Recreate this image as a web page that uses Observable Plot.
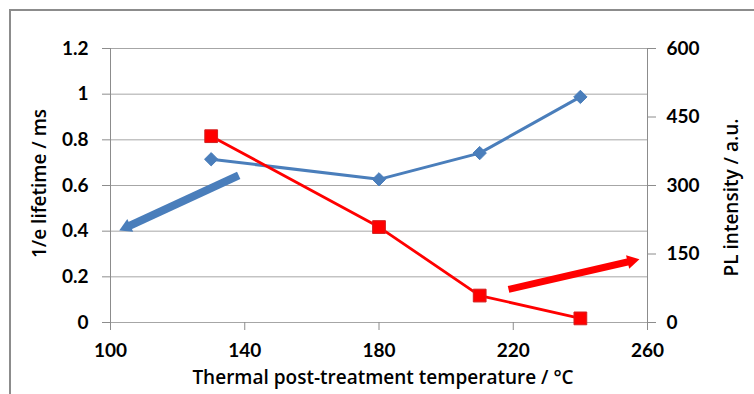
<!DOCTYPE html>
<html>
<head>
<meta charset="utf-8">
<script src="https://cdn.jsdelivr.net/npm/d3@7"></script>
<script src="https://cdn.jsdelivr.net/npm/@observablehq/plot@0.6"></script>
<style>
  html, body { margin: 0; padding: 0; background: #fff; }
  #wrap { position: relative; width: 754px; height: 394px; overflow: hidden; }
  #border { position: absolute; left: 9px; top: 9px; width: 760px; height: 400px;
            border-top: 2px solid #8c8c8c; border-left: 2px solid #8c8c8c; }
  #chart { position: absolute; left: 0; top: 0; }
</style>
</head>
<body>
<div id="wrap"><div id="border"></div><div id="chart"></div></div>
<script>
// Data
const temps = [130, 180, 210, 240];
const lifetime = [0.715, 0.627, 0.742, 0.988];       // 1/e lifetime / ms (left axis)
const plIntensity = [408, 209, 59, 9];               // PL intensity / a.u. (right axis)

const xTicks = [100, 140, 180, 220, 260];
const leftTicks = [0, 0.2, 0.4, 0.6, 0.8, 1, 1.2];
const rightTicks = [0, 150, 300, 450, 600];

// Trend arrows (data coordinates, left-axis units): tail -> tip
const arrowsData = [
  {x1: 138.2, y1: 0.644, x2: 102.6, y2: 0.403, color: "#4a7ebb", w: 8},
  {x1: 218.6, y1: 0.145, x2: 257.6, y2: 0.277, color: "#ff0000", w: 7}
];

const W = 754, H = 394, ML = 110, MR = 107, MT = 48, MB = 72;
const xDomain = [100, 260], yDomain = [0, 1.2];
const rightToLeft = v => v * 1.2 / 600;

const blueData = temps.map((t, i) => ({t, v: lifetime[i]}));
const redData = temps.map((t, i) => ({t, v: rightToLeft(plIntensity[i])}));

// Same scales as the plot, used to orient the arrow heads
const sx = Plot.scale({x: {domain: xDomain, range: [ML, W - MR]}});
const sy = Plot.scale({y: {domain: yDomain, range: [H - MB, MT]}});
const headSize = 5.2;
const headSide = headSize * Math.sqrt(Math.PI * 4 / Math.sqrt(3));
const tipToCenter = headSide / Math.sqrt(3);
const arrowParts = arrowsData.map(a => {
  const px1 = sx.apply(a.x1), py1 = sy.apply(a.y1), px2 = sx.apply(a.x2), py2 = sy.apply(a.y2);
  const dx = px2 - px1, dy = py2 - py1, L = Math.hypot(dx, dy);
  const ux = dx / L, uy = dy / L;
  const cx = px2 - ux * tipToCenter, cy = py2 - uy * tipToCenter;
  const sxEnd = px2 - ux * headSide * 0.8, syEnd = py2 - uy * headSide * 0.8;
  return {
    ...a,
    sx2: sx.invert(sxEnd), sy2: sy.invert(syEnd),
    hx: sx.invert(cx), hy: sy.invert(cy),
    rot: Math.atan2(dx, -dy) * 180 / Math.PI
  };
});

const BLUE = "#4a7ebb";
const RED = "#ff0000";
const FONT = "Lato, 'Open Sans', sans-serif";
const TFONT = "'Open Sans', Lato, sans-serif";
const FS = 19;
const TS = 19;

const chart = Plot.plot({
  width: W,
  height: H,
  marginLeft: ML,
  marginRight: MR,
  marginTop: MT,
  marginBottom: MB,
  style: {fontFamily: FONT, fontSize: FS + "px", fontWeight: "bold", color: "#000", background: "transparent"},
  x: {domain: xDomain, label: null},
  y: {domain: yDomain, label: null},
  marks: [
    Plot.gridY(leftTicks, {stroke: "#a6a6a6", strokeOpacity: 1, strokeWidth: 1}),
    Plot.ruleX([100, 260], {stroke: "#8c8c8c", strokeWidth: 1}),
    Plot.axisY(leftTicks, {anchor: "left", tickSize: 8, tickPadding: 14, stroke: "#8c8c8c",
      tickFormat: d => String(d), fontSize: FS, fontWeight: "bold", label: null}),
    Plot.axisY(rightTicks.map(rightToLeft), {anchor: "right", tickSize: 8, tickPadding: 11, stroke: "#8c8c8c",
      tickFormat: d => String(Math.round(d * 600 / 1.2)), fontSize: FS, fontWeight: "bold", label: null}),
    Plot.axisX(xTicks, {anchor: "bottom", tickSize: 8, tickPadding: 13, stroke: "#8c8c8c",
      tickFormat: d => String(d), fontSize: FS, fontWeight: "bold", label: null}),
    Plot.text(["1/e lifetime / ms"], {frameAnchor: "left", dx: -71, dy: -2, rotate: -90, textAnchor: "middle", fontFamily: TFONT, fontSize: TS, fontWeight: 600, fill: "#000"}),
    Plot.text(["PL intensity / a.u."], {frameAnchor: "right", dx: 84, dy: 12, rotate: -90, textAnchor: "middle", fontFamily: TFONT, fontSize: TS, fontWeight: 600, fill: "#000"}),
    Plot.text(["Thermal post-treatment temperature / °C"], {frameAnchor: "bottom", dx: 4, dy: 61, fontFamily: TFONT, fontSize: TS, fontWeight: 600, fill: "#000"}),
    // series
    Plot.line(blueData, {x: "t", y: "v", stroke: BLUE, strokeWidth: 3}),
    Plot.dot(blueData, {x: "t", y: "v", symbol: "diamond2", r: 6, fill: BLUE, stroke: BLUE, strokeWidth: 1}),
    Plot.line(redData, {x: "t", y: "v", stroke: RED, strokeWidth: 2.8}),
    Plot.dot(redData, {x: "t", y: "v", symbol: "square", r: 7.2, fill: RED, stroke: "#d42020", strokeWidth: 1}),
    // arrows: shaft + filled triangular head
    Plot.link(arrowParts, {x1: "x1", y1: "y1", x2: "sx2", y2: "sy2", stroke: "color", strokeWidth: "w", strokeLinecap: "butt"}),
    Plot.dot(arrowParts, {x: "hx", y: "hy", symbol: "triangle", r: headSize, rotate: "rot", fill: "color", stroke: "none"})
  ]
});
document.getElementById("chart").appendChild(chart);
</script>
</body>
</html>
